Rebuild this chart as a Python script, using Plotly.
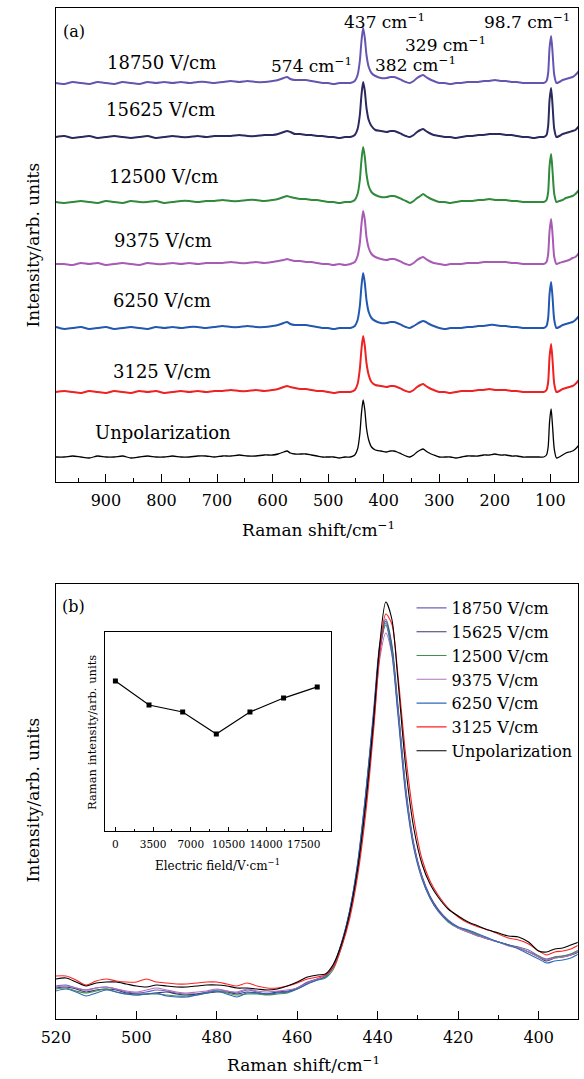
import plotly.graph_objects as go

# ---------------- data ----------------
fields = ["18750 V/cm", "15625 V/cm", "12500 V/cm", "9375 V/cm", "6250 V/cm", "3125 V/cm", "Unpolarization"]
colors_a = ["#6655b0", "#2b2a5e", "#2f8a3c", "#a85bb4", "#2358b0", "#ee2222", "#000000"]

# panel (a): Raman shift (cm-1) and relative intensities (arb. units)
wn_a = [990, 975, 960, 945, 930, 915, 900, 885, 870, 855, 840, 825, 810, 795, 780, 765, 750, 735, 720, 705,
        690, 675, 660, 645, 630, 615, 600,
        590, 580, 574, 568, 560,
        550, 540, 530, 520, 510, 500, 490, 480, 470, 460,
        452, 447, 443, 440, 437, 434, 431, 427, 422, 415, 405, 395, 388, 382, 376, 368, 360, 353, 346, 340,
        334, 329, 324, 318, 310,
        300, 290, 280, 270, 260, 250, 240, 230, 220, 210, 200, 190, 180, 170, 160, 150, 140, 130, 120,
        112, 107, 104, 101.5, 98.7, 96, 93, 89, 84, 78, 72, 66, 60, 55, 50, 46, 44]

a_18750 = [0, -1, 1, 0, -1, 1, 0, -1, 1, 0, -1, 1, 0, 1, 0, 1, 0, 1, 1, 0, 1, 2, 1, 2, 1, 1, 2,
           3, 5, 6, 4, 3,
           3, 3, 2, 1, 0, 0, -1, 0, 0, 0,
           2, 8, 22, 42, 55, 45, 28, 16, 10, 7, 5, 5, 6, 6, 5, 3, 1, 0, 2, 5, 7, 8, 6, 4, 2,
           0, 0, -1, 0, 0, 1, 1, 1, 2, 2, 3, 2, 2, 1, 1, 0, 0, 0, 0,
           0, 2, 10, 35, 47, 30, 8, 0, 1, 3, 4, 5, 6, 8, 11, 14, 15]
a_15625 = [0, 1, -1, 0, 1, -1, 0, 1, 0, -1, 0, 1, -1, 0, 1, 0, 0, 1, 0, 1, 1, 1, 2, 1, 1, 2, 2,
           3, 5, 6, 5, 3,
           3, 2, 2, 1, 1, 0, 0, -1, 0, 0,
           2, 8, 22, 42, 55, 46, 29, 17, 11, 7, 6, 5, 6, 6, 5, 3, 1, 0, 2, 5, 7, 8, 6, 4, 2,
           1, 0, 0, -1, 0, 1, 1, 2, 2, 3, 3, 3, 2, 2, 1, 0, 0, -1, 0,
           0, 2, 11, 37, 49, 31, 8, 0, 1, 3, 4, 5, 6, 7, 10, 13, 15]
a_12500 = [0, -1, 0, 1, 0, -1, 1, 0, -1, 1, 0, 0, 1, -1, 0, 1, 1, 0, 1, 1, 2, 1, 1, 2, 2, 1, 2,
           3, 5, 6, 5, 4,
           3, 3, 2, 2, 1, 0, 0, -1, 0, 0,
           2, 8, 22, 42, 55, 45, 28, 16, 10, 7, 5, 5, 6, 6, 5, 3, 1, -1, 1, 4, 6, 8, 6, 4, 2,
           0, 0, -1, 0, 1, 1, 1, 2, 2, 3, 2, 2, 2, 1, 1, 0, 0, 0, 0,
           0, 2, 10, 36, 48, 30, 8, 0, 1, 2, 4, 5, 6, 8, 11, 14, 16]
a_9375 = [0, 0, -1, 1, 0, 1, -1, 0, 1, 0, -1, 1, 0, 0, 1, 0, 1, 0, 1, 1, 1, 2, 1, 1, 2, 1, 2,
          3, 4, 5, 4, 3,
          3, 2, 2, 1, 0, 0, -1, 0, -1, 0,
          2, 8, 21, 40, 53, 44, 27, 16, 10, 7, 5, 4, 5, 5, 4, 2, 0, -1, 1, 4, 6, 7, 5, 3, 1,
          0, -1, 0, 0, 0, 1, 1, 1, 2, 2, 2, 2, 2, 1, 1, 0, 0, 0, 0,
          0, 2, 10, 33, 45, 29, 7, 0, 1, 2, 3, 4, 6, 7, 10, 13, 15]
a_6250 = [1, -1, 0, 1, -1, 0, 1, -1, 0, 1, 0, -1, 1, 0, 1, 0, 1, 1, 0, 1, 2, 1, 1, 2, 1, 1, 2,
          3, 5, 6, 4, 3,
          3, 3, 2, 1, 0, 0, -1, 0, 0, 0,
          2, 8, 22, 42, 55, 45, 28, 16, 10, 7, 5, 5, 6, 6, 5, 3, 1, 0, 2, 4, 6, 7, 6, 4, 2,
          0, -1, 0, 0, 0, 1, 1, 2, 2, 3, 3, 2, 2, 1, 1, 0, 0, 0, 0,
          0, 2, 10, 34, 46, 30, 8, 0, 1, 3, 4, 5, 6, 8, 11, 14, 16]
a_3125 = [0, 1, 0, -1, 1, 0, -1, 1, 0, -1, 1, 0, 1, -1, 0, 1, 0, 1, 0, 1, 1, 2, 1, 1, 2, 1, 2,
          3, 5, 6, 5, 4,
          3, 3, 2, 1, 1, 0, -1, 0, 0, 0,
          2, 8, 23, 43, 56, 46, 29, 17, 10, 7, 6, 5, 6, 6, 5, 3, 1, 0, 2, 5, 7, 8, 6, 4, 2,
          0, 0, -1, 0, 1, 1, 1, 2, 2, 3, 2, 2, 2, 1, 1, 0, 0, 0, 0,
          0, 2, 10, 35, 48, 31, 8, 0, 1, 3, 4, 5, 6, 8, 11, 14, 16]
a_unpol = [0, 0, 1, 0, -1, 1, 0, 0, 1, -1, 0, 1, 0, 0, 1, 0, 0, 1, 1, 0, 1, 1, 2, 1, 1, 2, 2,
           3, 5, 6, 4, 3,
           3, 3, 2, 1, 0, 0, 0, -1, 0, 0,
           2, 8, 23, 44, 57, 47, 29, 17, 10, 7, 6, 5, 6, 6, 5, 3, 1, 0, 2, 5, 7, 8, 6, 4, 2,
           0, 0, 0, -1, 0, 1, 1, 1, 2, 2, 3, 2, 2, 1, 1, 0, 0, 0, 0,
           0, 2, 10, 35, 48, 30, 8, -1, 0, 2, 4, 5, 6, 8, 11, 14, 16]
series_a = [a_18750, a_15625, a_12500, a_9375, a_6250, a_3125, a_unpol]
stack_offsets_a = [399, 345, 280, 218, 154, 90, 25]

peak_labels = ["437 cm<sup>−1</sup>", "98.7 cm<sup>−1</sup>", "329 cm<sup>−1</sup>",
               "382 cm<sup>−1</sup>", "574 cm<sup>−1</sup>"]

# panel (b): zoom on the 437 cm-1 mode
wn_b = [520, 517.5, 515, 512.5, 510, 507.5, 505, 502.5, 500, 497.5, 495, 492.5, 490, 487.5, 485, 482.5,
        480, 477.5, 475, 472.5, 470, 467.5, 465, 462.5, 460, 457.5, 455,
        453, 451, 449, 447, 445, 443, 441, 439.5, 438, 436.5, 435, 433, 431, 429, 427, 425,
        422.5, 420, 417.5, 415, 412.5, 410, 407.5, 405, 402.5, 400,
        398, 396, 394, 392, 390]
b_18750 = [33, 34, 31, 29, 31, 32, 30, 27, 26, 27, 29, 28, 26, 25, 25, 27, 29, 28, 26, 29, 27, 25, 27, 28, 31, 37, 40,
           43, 54, 76, 108, 155, 225, 310, 375, 400, 375, 315, 230, 175, 143, 123, 110,
           99, 92, 88, 84, 80, 77, 74, 72, 69, 63,
           60, 62, 63, 65, 68]
b_15625 = [31, 32, 30, 27, 29, 30, 29, 26, 25, 25, 26, 27, 25, 24, 25, 26, 27, 27, 25, 27, 26, 25, 27, 27, 31, 36, 40,
           43, 53, 75, 107, 153, 222, 305, 372, 398, 372, 312, 228, 173, 142, 122, 109,
           98, 91, 87, 83, 80, 77, 74, 71, 67, 62,
           58, 61, 62, 64, 67]
b_12500 = [30, 31, 28, 26, 28, 30, 27, 25, 24, 25, 25, 24, 23, 23, 24, 26, 28, 26, 24, 25, 25, 24, 25, 26, 30, 35, 39,
           41, 50, 72, 104, 150, 218, 300, 368, 396, 370, 310, 226, 172, 141, 121, 108,
           97, 91, 88, 84, 80, 77, 74, 71, 67, 63,
           59, 62, 63, 65, 69]
b_9375 = [32, 33, 31, 29, 31, 32, 30, 28, 27, 29, 31, 29, 27, 26, 27, 28, 30, 28, 27, 30, 28, 27, 28, 29, 31, 36, 40,
          43, 52, 74, 104, 150, 215, 295, 360, 386, 365, 308, 226, 172, 141, 121, 108,
          98, 91, 87, 83, 80, 77, 73, 71, 67, 62,
          59, 61, 62, 64, 68]
b_6250 = [28, 30, 27, 23, 26, 29, 27, 25, 24, 25, 26, 23, 22, 22, 24, 26, 28, 25, 22, 26, 26, 25, 26, 27, 30, 35, 39,
          42, 53, 76, 108, 156, 225, 305, 368, 394, 366, 305, 222, 170, 140, 121, 108,
          98, 92, 89, 85, 81, 77, 74, 70, 65, 60,
          56, 58, 59, 61, 65]
b_3125 = [43, 43, 39, 34, 38, 40, 38, 37, 37, 40, 37, 36, 35, 35, 36, 37, 37, 35, 33, 36, 33, 31, 31, 33, 36, 40, 42,
          44, 52, 72, 100, 143, 205, 290, 365, 405, 395, 345, 262, 200, 160, 138, 124,
          111, 102, 96, 92, 89, 85, 81, 79, 75, 68,
          64, 67, 68, 70, 74]
b_unpol = [40, 41, 37, 33, 36, 37, 37, 35, 33, 32, 34, 33, 32, 32, 33, 34, 34, 33, 31, 31, 30, 29, 30, 33, 37, 42, 44,
           45, 55, 75, 105, 150, 215, 300, 375, 417, 400, 340, 250, 190, 155, 135, 122,
           110, 103, 97, 93, 89, 86, 83, 82, 77, 68,
           67, 70, 71, 74, 77]
series_b = [b_18750, b_15625, b_12500, b_9375, b_6250, b_3125, b_unpol]
colors_b = ["#7060b8", "#3a3970", "#3f9050", "#b070bc", "#3068b8", "#ff2020", "#000000"]

# inset: 437 cm-1 Raman intensity vs electric field
field_inset = [0, 3125, 6250, 9375, 12500, 15625, 18750]
int_inset = [75.4, 63.3, 59.8, 48.7, 59.8, 66.8, 72.4]

# ---------------- layout helpers ----------------
W, H = 584, 1079
FONT = "DejaVu Serif"


def fx(p):
    return p / W


def fy(p):
    return 1 - p / H


fig = go.Figure()

for name, col, ys, off in zip(fields, colors_a, series_a, stack_offsets_a):
    fig.add_trace(go.Scatter(
        x=wn_a, y=[v + off for v in ys], mode="lines", name=name, showlegend=False,
        line=dict(color=col, width=1.3 if col == "#000000" else 2.0, shape="spline", smoothing=0.7),
        xaxis="x", yaxis="y", hoverinfo="skip"))

for name, col, ys in zip(fields, colors_b, series_b):
    fig.add_trace(go.Scatter(
        x=wn_b, y=ys, mode="lines", name=name, showlegend=True,
        line=dict(color=col, width=1.1, shape="spline", smoothing=0.8),
        xaxis="x2", yaxis="y2", hoverinfo="skip"))

fig.add_trace(go.Scatter(
    x=field_inset, y=int_inset, mode="lines+markers", showlegend=False,
    line=dict(color="black", width=1.2),
    marker=dict(symbol="square", size=5, color="black"),
    xaxis="x3", yaxis="y3", hoverinfo="skip"))

frame = dict(showline=True, mirror=True, linecolor="black", linewidth=1.2,
             showgrid=False, zeroline=False)

fig.update_layout(
    width=W, height=H, margin=dict(l=0, r=0, t=0, b=0),
    paper_bgcolor="white", plot_bgcolor="white",
    font=dict(family=FONT, color="black", size=16),
    xaxis=dict(domain=[fx(42), fx(578)], range=[990, 50], anchor="y",
               tickmode="linear", tick0=0, dtick=100, ticks="inside", ticklen=8, tickwidth=1.2,
               tickcolor="black", ticklabelstandoff=4, tickfont=dict(size=16),
               minor=dict(tick0=0, dtick=50, ticks="inside", ticklen=4, tickcolor="black", tickwidth=1.2),
               **frame),
    yaxis=dict(domain=[fy(482), fy(8)], range=[0, 474], anchor="x",
               showticklabels=False, ticks="", **frame),
    xaxis2=dict(domain=[fx(42), fx(577.5)], range=[520, 390.3], anchor="y2",
                tickmode="linear", tick0=0, dtick=20, ticks="inside", ticklen=8, tickwidth=1.2,
                tickcolor="black", ticklabelstandoff=4, tickfont=dict(size=16),
                minor=dict(tick0=0, dtick=10, ticks="inside", ticklen=4, tickcolor="black", tickwidth=1.2),
                **frame),
    yaxis2=dict(domain=[fy(1019), fy(584)], range=[0, 435], anchor="x2",
                showticklabels=False, ticks="", **frame),
    xaxis3=dict(domain=[fx(92), fx(324)], range=[-1000, 20000], anchor="y3",
                tickmode="linear", tick0=0, dtick=3500, tickformat="d", ticks="inside", ticklen=4,
                tickwidth=1, tickcolor="black", ticklabelstandoff=3, tickfont=dict(size=10.5),
                minor=dict(tick0=0, dtick=1750, ticks="inside", ticklen=2, tickcolor="black", tickwidth=1),
                **frame),
    yaxis3=dict(domain=[fy(831), fy(632)], range=[0, 100], anchor="x3",
                showticklabels=False, ticks="", **frame),
    legend=dict(x=fx(407), y=fy(591), xanchor="left", yanchor="top", bgcolor="rgba(0,0,0,0)",
                font=dict(size=16, family=FONT), itemwidth=30, tracegroupgap=0),
    hovermode=False,
)

ann = []
# stacked trace labels in panel (a)
label_pos_a = [(150, 63), (149, 110), (152, 177), (152, 240), (151, 300), (151, 372), (152, 432)]
for t, (px, py) in zip(fields, label_pos_a):
    ann.append(dict(text=t, x=fx(px), y=fy(py), font=dict(size=18)))
# peak labels
peak_pos = [(379, 21), (526, 21), (442, 44), (411, 64), (304, 65)]
for t, (px, py) in zip(peak_labels, peak_pos):
    ann.append(dict(text=t, x=fx(px), y=fy(py), font=dict(size=17)))
# panel tags
ann.append(dict(text="(a)", x=fx(61), y=fy(31), font=dict(size=16)))
ann.append(dict(text="(b)", x=fx(60), y=fy(606), font=dict(size=16)))
# axis titles
ann.append(dict(text="Raman shift/cm<sup>−1</sup>", x=fx(311), y=fy(529), font=dict(size=17)))
ann.append(dict(text="Raman shift/cm<sup>−1</sup>", x=fx(296), y=fy(1064), font=dict(size=17)))
ann.append(dict(text="Intensity/arb. units", x=fx(18), y=fy(245), textangle=-90, font=dict(size=17)))
ann.append(dict(text="Intensity/arb. units", x=fx(18), y=fy(800), textangle=-90, font=dict(size=17)))
ann.append(dict(text="Electric field/V·cm<sup>−1</sup>", x=fx(208), y=fy(865), font=dict(size=12)))
ann.append(dict(text="Raman intensity/arb. units", x=fx(79), y=fy(732), textangle=-90, font=dict(size=11.5)))

for a in ann:
    a.update(xref="paper", yref="paper", showarrow=False, xanchor="center", yanchor="middle")
    a["font"] = dict(family=FONT, color="black", **a["font"])
fig.update_layout(annotations=ann)

fig.write_html("out.html", config={"displayModeBar": False},
               post_script="document.body.style.margin='0';")
